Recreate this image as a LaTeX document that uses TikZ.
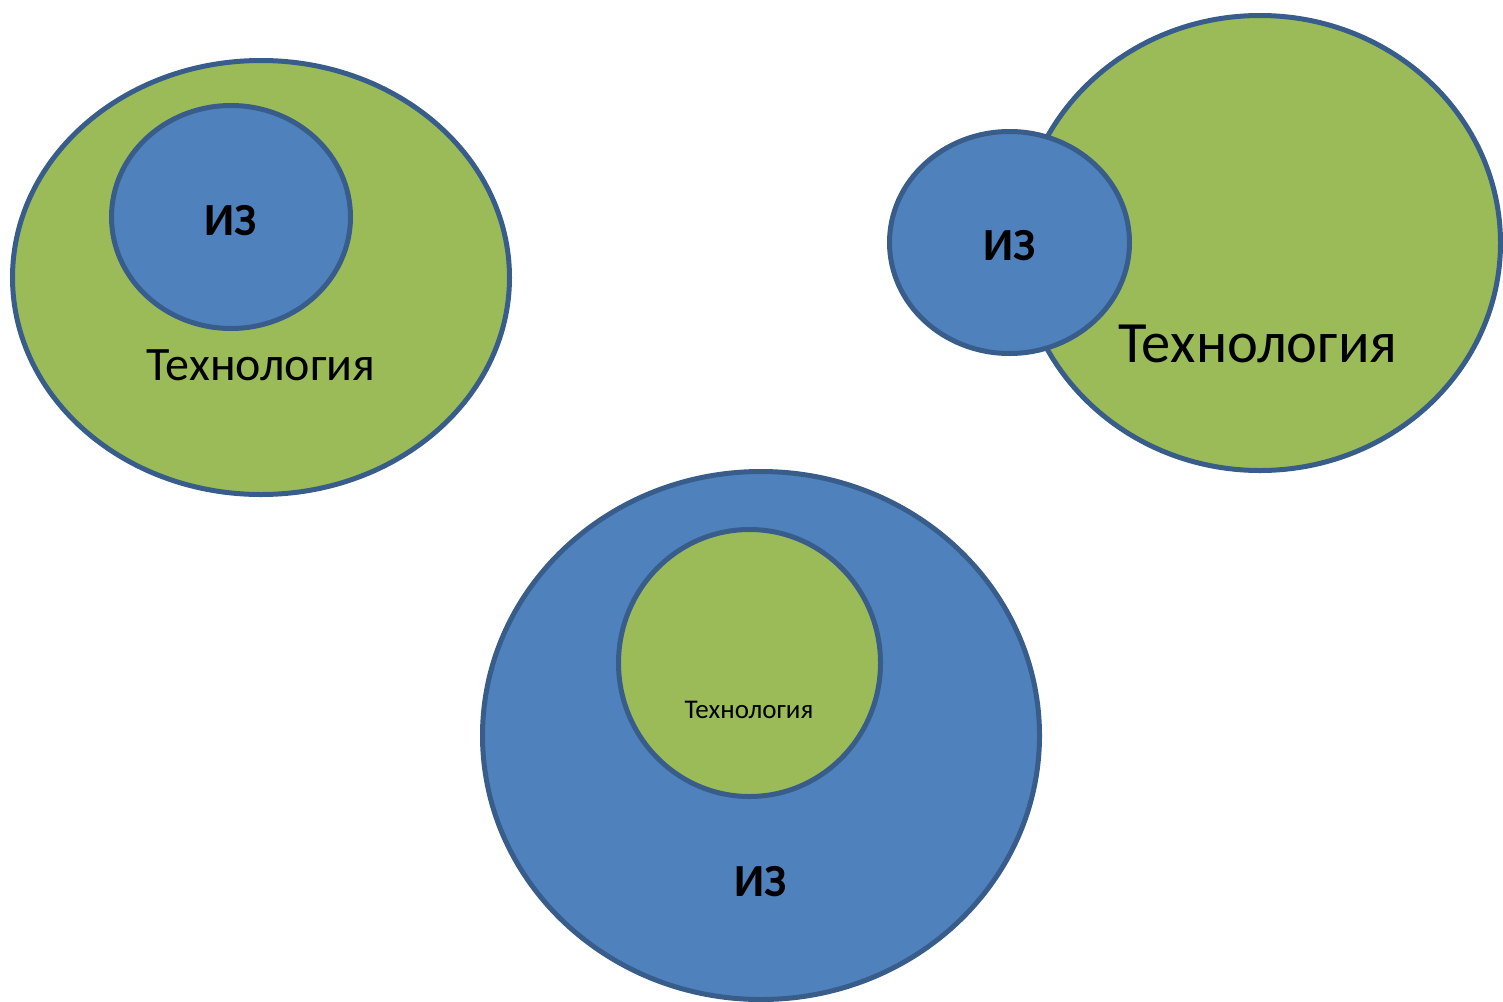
\documentclass[tikz,border=0pt]{standalone}
\usepackage{fontspec}
\setmainfont{Carlito}
\usetikzlibrary{shapes.geometric}
\definecolor{ogreen}{HTML}{9BBB59}
\definecolor{oblue}{HTML}{4F81BD}
\definecolor{ostroke}{HTML}{385D8A}
\tikzset{
  blob/.style={ellipse, draw=ostroke, line width=5pt, inner sep=0pt, outer sep=0pt},
  greenblob/.style={blob, fill=ogreen},
  blueblob/.style={blob, fill=oblue},
  lbl/.style={anchor=base, inner sep=0pt, text=black}
}
\begin{document}
\begin{tikzpicture}[x=1pt,y=-1pt]
\useasboundingbox (0,0) rectangle (1503,1001);
% top-left
\node[greenblob, minimum width=497pt, minimum height=434pt] (g1) at (261,277.5) {};
\node[blueblob, minimum width=239pt, minimum height=223pt] (b1) at (231,217) {};
\node[lbl, font=\fontsize{46}{50}\selectfont\bfseries] (t1) at (231,235) {ИЗ};
\node[lbl, font=\fontsize{48}{52}\selectfont] (t2) at (261,380) {Технология};
% top-right
\node[greenblob, minimum width=481pt, minimum height=455pt] (g2) at (1260,243) {};
\node[blueblob, minimum width=240pt, minimum height=222pt] (b2) at (1009.5,242.5) {};
\node[lbl, font=\fontsize{46}{50}\selectfont\bfseries] (t3) at (1010,260) {ИЗ};
\node[lbl, font=\fontsize{58.5}{62}\selectfont] (t4) at (1258,362) {Технология};
% bottom
\node[blueblob, minimum width=557pt, minimum height=528pt] (b3) at (761,735.5) {};
\node[greenblob, minimum width=262pt, minimum height=267pt] (g3) at (749.5,663) {};
\node[lbl, font=\fontsize{27}{29}\selectfont] (t5) at (749,718) {Технология};
\node[lbl, font=\fontsize{46}{50}\selectfont\bfseries] (t6) at (761,896) {ИЗ};
\end{tikzpicture}
\end{document}
